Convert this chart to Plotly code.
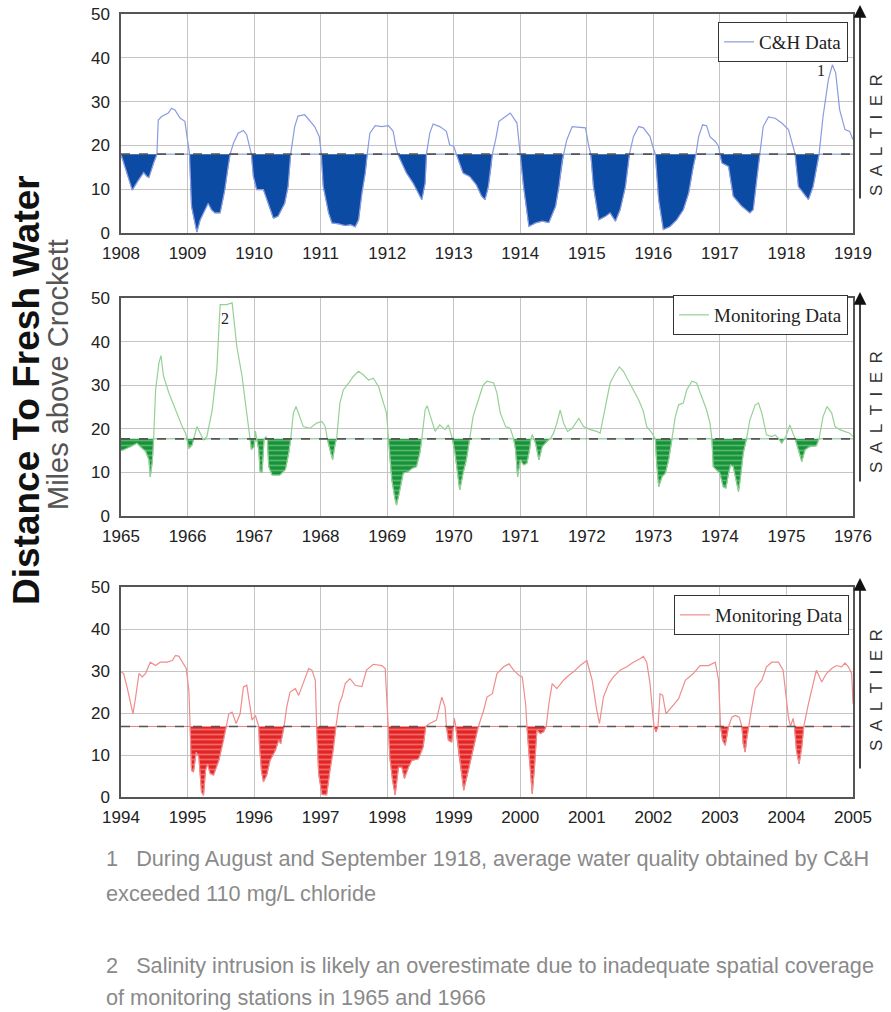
import numpy as np
import plotly.graph_objects as go

W, H = 891, 1012

# ---------------- data ----------------
ch_years = [1908.00, 1908.08, 1908.17, 1908.25, 1908.34, 1908.39, 1908.42, 1908.49, 1908.54, 1908.56,
            1908.61, 1908.71, 1908.76, 1908.81, 1908.89, 1908.96, 1909.01, 1909.03, 1909.06, 1909.14,
            1909.19, 1909.24, 1909.31, 1909.36, 1909.41, 1909.49, 1909.56, 1909.61, 1909.64, 1909.69,
            1909.76, 1909.84, 1909.89, 1909.93, 1909.96, 1909.99, 1910.04, 1910.14, 1910.21, 1910.29,
            1910.36, 1910.46, 1910.51, 1910.55, 1910.61, 1910.66, 1910.76, 1910.84, 1910.91, 1910.98,
            1911.01, 1911.04, 1911.12, 1911.17, 1911.27, 1911.37, 1911.45, 1911.52, 1911.57, 1911.62,
            1911.67, 1911.70, 1911.74, 1911.82, 1911.92, 1912.02, 1912.09, 1912.13, 1912.16, 1912.22,
            1912.29, 1912.39, 1912.47, 1912.52, 1912.57, 1912.59, 1912.64, 1912.69, 1912.79, 1912.89,
            1912.94, 1913.00, 1913.04, 1913.14, 1913.24, 1913.34, 1913.42, 1913.47, 1913.52, 1913.56,
            1913.58, 1913.63, 1913.68, 1913.78, 1913.85, 1913.95, 1914.00, 1914.05, 1914.13, 1914.23,
            1914.33, 1914.43, 1914.53, 1914.58, 1914.63, 1914.65, 1914.70, 1914.78, 1914.88, 1914.98,
            1915.03, 1915.06, 1915.10, 1915.18, 1915.28, 1915.35, 1915.43, 1915.50, 1915.58, 1915.64,
            1915.70, 1915.78, 1915.85, 1915.95, 1915.99, 1916.03, 1916.08, 1916.15, 1916.25, 1916.35,
            1916.45, 1916.53, 1916.60, 1916.64, 1916.68, 1916.74, 1916.80, 1916.85, 1916.93, 1916.98,
            1917.00, 1917.03, 1917.13, 1917.20, 1917.33, 1917.45, 1917.50, 1917.55, 1917.60, 1917.65,
            1917.73, 1917.83, 1917.93, 1918.03, 1918.10, 1918.13, 1918.18, 1918.25, 1918.33, 1918.40,
            1918.45, 1918.49, 1918.55, 1918.63, 1918.69, 1918.74, 1918.80, 1918.88, 1918.95, 1919.00]
ch_miles = [18.0, 14.0, 9.8, 11.8, 13.8, 12.9, 12.7, 16.0, 18.0, 25.8,
            26.6, 27.4, 28.5, 28.1, 26.2, 25.5, 19.8, 18.0, 6.1, 0.2,
            3.0, 4.6, 6.8, 5.3, 4.6, 4.6, 9.9, 15.2, 18.0, 20.5,
            22.8, 23.4, 22.4, 19.8, 18.0, 12.9, 9.9, 9.9, 6.8, 3.4,
            3.8, 6.8, 10.6, 18.0, 24.3, 26.7, 27.0, 25.5, 24.3, 22.0,
            18.0, 10.6, 4.6, 2.3, 2.1, 1.7, 1.9, 1.4, 3.0, 9.1,
            13.7, 18.0, 22.8, 24.5, 24.3, 24.5, 23.2, 19.8, 18.0, 16.0,
            13.7, 11.4, 9.1, 7.6, 11.4, 18.0, 22.8, 24.9, 24.3, 23.2,
            20.1, 19.8, 18.0, 13.7, 12.9, 11.0, 8.4, 7.6, 10.6, 15.0,
            18.0, 21.3, 25.5, 26.6, 27.4, 25.1, 18.0, 10.6, 1.5, 2.3,
            2.7, 2.4, 6.1, 10.6, 16.6, 18.0, 21.3, 24.3, 24.2, 24.0,
            19.8, 18.0, 10.6, 3.0, 3.8, 4.6, 2.7, 5.3, 10.6, 18.0,
            22.0, 24.3, 24.0, 22.0, 19.8, 18.0, 7.6, 0.8, 1.5, 3.0,
            5.3, 9.1, 15.2, 18.0, 22.0, 24.7, 24.5, 22.0, 20.9, 19.8,
            18.0, 16.0, 15.2, 8.4, 6.1, 4.6, 5.3, 12.2, 18.0, 24.3,
            26.5, 26.2, 25.1, 23.6, 19.8, 18.0, 10.6, 9.1, 7.6, 10.6,
            14.4, 18.0, 26.6, 35.0, 38.4, 36.5, 28.1, 23.6, 23.2, 21.3]

mon1_years = [1965.00, 1965.04, 1965.14, 1965.24, 1965.29, 1965.37, 1965.42, 1965.44, 1965.47, 1965.49,
              1965.52, 1965.57, 1965.60, 1965.64, 1965.72, 1965.82, 1965.85, 1965.92, 1965.97, 1965.99,
              1966.02, 1966.07, 1966.09, 1966.14, 1966.19, 1966.24, 1966.29, 1966.37, 1966.44, 1966.49,
              1966.59, 1966.67, 1966.74, 1966.82, 1966.87, 1966.92, 1966.94, 1966.96, 1967.00, 1967.02,
              1967.04, 1967.07, 1967.09, 1967.12, 1967.15, 1967.18, 1967.20, 1967.22, 1967.27, 1967.39,
              1967.47, 1967.52, 1967.55, 1967.59, 1967.63, 1967.68, 1967.74, 1967.84, 1967.94, 1968.02,
              1968.07, 1968.10, 1968.14, 1968.18, 1968.22, 1968.24, 1968.29, 1968.34, 1968.42, 1968.49,
              1968.57, 1968.64, 1968.72, 1968.79, 1968.87, 1968.94, 1968.99, 1969.02, 1969.04, 1969.07,
              1969.12, 1969.14, 1969.18, 1969.24, 1969.32, 1969.37, 1969.44, 1969.49, 1969.52, 1969.57,
              1969.60, 1969.67, 1969.72, 1969.79, 1969.87, 1969.92, 1969.94, 1969.98, 1970.02, 1970.07,
              1970.09, 1970.14, 1970.19, 1970.24, 1970.29, 1970.37, 1970.44, 1970.50, 1970.60, 1970.65,
              1970.70, 1970.78, 1970.85, 1970.90, 1970.93, 1970.96, 1971.00, 1971.05, 1971.10, 1971.14,
              1971.16, 1971.18, 1971.20, 1971.23, 1971.28, 1971.33, 1971.40, 1971.45, 1971.50, 1971.55,
              1971.60, 1971.65, 1971.71, 1971.78, 1971.88, 1971.95, 1972.05, 1972.15, 1972.20, 1972.28,
              1972.35, 1972.43, 1972.49, 1972.55, 1972.63, 1972.70, 1972.78, 1972.85, 1972.90, 1972.98,
              1973.03, 1973.05, 1973.08, 1973.13, 1973.18, 1973.23, 1973.28, 1973.33, 1973.38, 1973.45,
              1973.50, 1973.58, 1973.65, 1973.73, 1973.80, 1973.85, 1973.88, 1973.90, 1973.95, 1974.00,
              1974.05, 1974.09, 1974.13, 1974.16, 1974.20, 1974.24, 1974.28, 1974.31, 1974.35, 1974.40,
              1974.45, 1974.53, 1974.58, 1974.63, 1974.70, 1974.78, 1974.83, 1974.88, 1974.93, 1974.97,
              1975.00, 1975.05, 1975.10, 1975.13, 1975.18, 1975.23, 1975.28, 1975.35, 1975.45, 1975.49,
              1975.55, 1975.61, 1975.68, 1975.73, 1975.80, 1975.88, 1975.95, 1976.00]
mon1_miles = [15.0, 15.2, 15.9, 16.7, 15.9, 14.8, 12.9, 9.0, 12.5, 17.7,
              28.9, 35.1, 36.8, 32.0, 28.2, 24.3, 23.2, 20.5, 19.0, 17.7,
              15.5, 16.3, 17.7, 20.5, 19.0, 17.5, 18.2, 24.3, 33.5, 48.5,
              48.5, 48.9, 38.9, 32.0, 25.9, 20.5, 17.7, 15.2, 15.9, 19.5,
              17.7, 15.2, 10.2, 10.0, 17.7, 18.2, 17.7, 11.3, 9.4, 9.4,
              10.6, 14.4, 17.7, 23.6, 25.1, 22.8, 20.5, 20.1, 21.3, 21.7,
              20.5, 17.7, 15.2, 12.9, 16.7, 17.7, 25.9, 28.9, 30.5, 32.0,
              33.2, 32.4, 31.2, 31.6, 29.7, 25.9, 23.6, 17.7, 13.6, 8.3,
              3.7, 2.5, 5.2, 9.8, 10.2, 10.9, 11.3, 14.4, 17.7, 24.3,
              25.3, 22.0, 19.4, 20.9, 19.8, 20.9, 19.8, 17.7, 14.4, 8.3,
              6.0, 9.8, 12.9, 17.7, 22.8, 26.6, 30.0, 30.9, 30.5, 28.2,
              23.6, 20.5, 20.1, 17.7, 15.2, 9.0, 12.9, 11.7, 12.1, 15.2,
              17.7, 18.7, 17.7, 16.7, 12.9, 15.9, 17.1, 17.7, 19.0, 21.3,
              24.3, 21.3, 19.4, 20.1, 22.4, 20.5, 19.8, 19.4, 19.0, 25.1,
              30.5, 32.8, 34.2, 33.2, 30.9, 28.9, 26.6, 24.0, 20.5, 19.0,
              17.7, 12.1, 6.7, 9.0, 9.8, 12.9, 17.7, 22.8, 25.5, 25.9,
              28.9, 30.9, 30.5, 27.4, 24.3, 21.3, 17.7, 11.3, 10.6, 9.8,
              6.7, 6.4, 9.8, 11.7, 11.3, 8.3, 5.6, 9.0, 14.4, 17.7,
              22.0, 25.5, 25.9, 23.6, 18.6, 18.2, 18.6, 17.8, 16.7, 17.7,
              18.6, 20.9, 19.0, 17.7, 15.2, 12.5, 15.2, 15.9, 16.1, 17.7,
              22.8, 25.1, 23.6, 20.5, 19.8, 19.4, 19.0, 18.2]

mon2_years = [1994.00, 1994.04, 1994.09, 1994.14, 1994.18, 1994.22, 1994.27, 1994.32, 1994.37, 1994.44,
              1994.52, 1994.59, 1994.69, 1994.77, 1994.82, 1994.87, 1994.92, 1994.98, 1995.02, 1995.04,
              1995.06, 1995.09, 1995.13, 1995.17, 1995.21, 1995.24, 1995.27, 1995.30, 1995.34, 1995.39,
              1995.47, 1995.54, 1995.58, 1995.62, 1995.67, 1995.73, 1995.79, 1995.84, 1995.89, 1995.93,
              1995.97, 1996.02, 1996.07, 1996.08, 1996.11, 1996.14, 1996.19, 1996.24, 1996.32, 1996.37,
              1996.40, 1996.45, 1996.49, 1996.54, 1996.62, 1996.67, 1996.74, 1996.82, 1996.87, 1996.92,
              1996.94, 1996.97, 1997.02, 1997.09, 1997.14, 1997.19, 1997.23, 1997.28, 1997.32, 1997.37,
              1997.44, 1997.52, 1997.62, 1997.69, 1997.79, 1997.92, 1997.97, 1998.02, 1998.04, 1998.08,
              1998.12, 1998.17, 1998.22, 1998.26, 1998.32, 1998.37, 1998.47, 1998.54, 1998.58, 1998.64,
              1998.74, 1998.82, 1998.87, 1998.89, 1998.92, 1998.97, 1998.99, 1999.01, 1999.03, 1999.07,
              1999.12, 1999.15, 1999.22, 1999.29, 1999.37, 1999.45, 1999.50, 1999.58, 1999.65, 1999.75,
              1999.83, 1999.90, 1999.98, 2000.03, 2000.08, 2000.10, 2000.13, 2000.15, 2000.18, 2000.21,
              2000.25, 2000.30, 2000.35, 2000.39, 2000.43, 2000.48, 2000.55, 2000.65, 2000.73, 2000.80,
              2000.90, 2001.00, 2001.08, 2001.15, 2001.19, 2001.25, 2001.33, 2001.40, 2001.50, 2001.60,
              2001.70, 2001.80, 2001.85, 2001.90, 2001.95, 2001.99, 2002.01, 2002.04, 2002.07, 2002.10,
              2002.14, 2002.19, 2002.28, 2002.38, 2002.48, 2002.60, 2002.70, 2002.83, 2002.93, 2002.98,
              2003.01, 2003.04, 2003.08, 2003.13, 2003.18, 2003.23, 2003.29, 2003.33, 2003.35, 2003.38,
              2003.40, 2003.43, 2003.48, 2003.53, 2003.63, 2003.70, 2003.78, 2003.88, 2003.95, 2004.03,
              2004.06, 2004.10, 2004.12, 2004.15, 2004.19, 2004.23, 2004.26, 2004.33, 2004.40, 2004.45,
              2004.53, 2004.60, 2004.68, 2004.75, 2004.83, 2004.88, 2004.93, 2004.98, 2005.00]
mon2_miles = [29.8, 29.4, 26.2, 22.2, 19.8, 23.8, 29.4, 28.6, 29.4, 32.1,
              31.3, 32.1, 32.1, 32.5, 33.7, 33.5, 32.1, 30.6, 25.4, 16.8,
              6.3, 6.0, 10.7, 9.5, 1.2, 0.4, 6.3, 7.9, 5.6, 5.2,
              8.7, 13.5, 16.8, 19.8, 20.2, 17.5, 19.8, 26.2, 26.6, 22.2,
              18.3, 19.4, 16.8, 12.7, 6.3, 3.6, 5.2, 8.7, 11.1, 13.5,
              12.7, 16.8, 21.4, 25.0, 25.8, 24.2, 27.0, 30.6, 30.2, 27.8,
              16.8, 5.6, 0.6, 0.5, 6.3, 11.1, 16.8, 22.2, 23.8, 27.0,
              28.2, 26.6, 26.3, 30.2, 31.6, 31.3, 30.6, 16.8, 9.5, 4.0,
              0.5, 7.1, 7.1, 4.4, 7.1, 8.7, 9.1, 11.9, 16.8, 17.5,
              18.3, 23.8, 21.4, 16.8, 13.5, 13.1, 16.8, 18.7, 16.8, 11.1,
              5.6, 1.6, 6.3, 11.1, 16.8, 20.6, 23.8, 24.6, 29.4, 31.0,
              31.7, 30.2, 29.0, 28.6, 22.2, 16.8, 10.3, 6.3, 0.8, 6.3,
              15.9, 15.1, 15.5, 16.8, 22.2, 27.0, 25.8, 27.8, 29.0, 29.8,
              31.3, 32.5, 27.8, 20.6, 17.5, 23.8, 27.0, 28.6, 30.2, 31.0,
              32.1, 32.9, 33.5, 32.1, 27.0, 19.8, 16.8, 15.5, 16.8, 24.6,
              24.2, 19.8, 21.4, 23.4, 27.8, 29.4, 31.3, 31.3, 32.1, 27.8,
              16.8, 13.5, 12.3, 16.8, 19.0, 19.4, 19.0, 16.8, 12.7, 10.7,
              13.5, 16.8, 21.4, 25.8, 27.8, 31.0, 32.1, 32.1, 30.2, 19.0,
              16.8, 18.7, 16.8, 11.1, 7.9, 11.9, 16.8, 22.2, 27.0, 30.2,
              27.4, 29.4, 30.6, 31.3, 31.0, 31.9, 31.0, 29.4, 22.2]

thresholds = [18.0, 17.7, 16.8]
series_names = ["C&H Data", "Monitoring Data", "Monitoring Data"]
year_ranges = [(1908, 1919), (1965, 1976), (1994, 2005)]
y_ticks = [0, 10, 20, 30, 40, 50]

footnote_1 = ["1   During August and September 1918, average water quality obtained by C&H",
              "exceeded 110 mg/L chloride"]
footnote_2 = ["2   Salinity intrusion is likely an overestimate due to inadequate spatial coverage",
              "of monitoring stations in 1965 and 1966"]
side_label = "SALTIER"

# ---------------- styling ----------------
line_colors = ["#8a9be0", "#95d195", "#f08c8c"]
fill_colors = ["#0b4ba3", "#17913a", "#e42424"]
stripe_colors = [None, "#55b86b", "#f06a6a"]
panel_px = [(14, 233), (298, 516), (587, 797)]   # top/bottom pixel of each plot area
x_px = (121, 853)
legend_px = [(848, 22), (848, 295), (849, 595)]
arrow_px = [(5, 200, 135), (292, 483, 412), (578, 770, 690)]

def px_x(p):
    return p / W

def px_y(p):
    return 1 - p / H

fig = go.Figure()
datasets = [(ch_years, ch_miles), (mon1_years, mon1_miles), (mon2_years, mon2_miles)]

for i, (xs, ys) in enumerate(datasets):
    n = i + 1
    xa = "x" if n == 1 else f"x{n}"
    ya = "y" if n == 1 else f"y{n}"
    leg = "legend" if n == 1 else f"legend{n}"
    thr = thresholds[i]
    xs = np.array(xs)
    ys = np.array(ys)
    thr_arr = np.full_like(ys, thr)
    fig.add_trace(go.Scatter(x=xs, y=thr_arr, mode="lines", line=dict(width=0),
                             hoverinfo="skip", showlegend=False, xaxis=xa, yaxis=ya))
    fill_kw = dict(fill="tonexty", fillcolor=fill_colors[i])
    if stripe_colors[i]:
        fill_kw["fillpattern"] = dict(shape="-", fgcolor=stripe_colors[i], bgcolor=fill_colors[i],
                                      size=5, solidity=0.35, fillmode="replace")
    fig.add_trace(go.Scatter(x=xs, y=np.minimum(ys, thr), mode="lines",
                             line=dict(width=0.6, color=fill_colors[i]),
                             hoverinfo="skip", showlegend=False, xaxis=xa, yaxis=ya, **fill_kw))
    fig.add_trace(go.Scatter(x=xs, y=ys, mode="lines", name=series_names[i],
                             line=dict(width=1.2, color=line_colors[i]),
                             showlegend=True, legend=leg, xaxis=xa, yaxis=ya))
    fig.add_trace(go.Scatter(x=[year_ranges[i][0], year_ranges[i][1]], y=[thr, thr], mode="lines",
                             line=dict(width=1.6, color="#555555", dash="dash"),
                             hoverinfo="skip", showlegend=False, xaxis=xa, yaxis=ya))

axis_font = dict(family="Liberation Sans, Arial, sans-serif", size=17, color="#222222")
layout = dict(
    width=W, height=H, autosize=False,
    margin=dict(l=0, r=0, t=0, b=0, pad=0),
    paper_bgcolor="white", plot_bgcolor="white",
)
for i in range(3):
    n = i + 1
    xk = "xaxis" if n == 1 else f"xaxis{n}"
    yk = "yaxis" if n == 1 else f"yaxis{n}"
    xa = "x" if n == 1 else f"x{n}"
    ya = "y" if n == 1 else f"y{n}"
    top, bot = panel_px[i]
    layout[xk] = dict(domain=[px_x(x_px[0]), px_x(x_px[1])], anchor=ya, automargin=False,
                      range=list(year_ranges[i]), tickmode="linear", dtick=1, tick0=year_ranges[i][0],
                      tickformat="d", showgrid=True, gridcolor="#c4c4c4", gridwidth=1,
                      showline=True, linecolor="#555555", linewidth=1.5, mirror=True,
                      ticks="", ticklabelstandoff=4, tickfont=axis_font, zeroline=False, fixedrange=True)
    layout[yk] = dict(domain=[px_y(bot), px_y(top)], anchor=xa, automargin=False,
                      range=[0, 50], tickvals=y_ticks, showgrid=True, gridcolor="#c4c4c4", gridwidth=1,
                      showline=True, linecolor="#555555", linewidth=1.5, mirror=True,
                      ticks="", ticklabelstandoff=6, tickfont=axis_font, zeroline=False, fixedrange=True)
    lk = "legend" if n == 1 else f"legend{n}"
    lx, ly = legend_px[i]
    layout[lk] = dict(x=px_x(lx), y=px_y(ly), xanchor="right", yanchor="top",
                      bgcolor="white", bordercolor="#333333", borderwidth=1,
                      font=dict(family="Liberation Serif, Times New Roman, serif", size=19, color="#222222"),
                      itemwidth=30)
fig.update_layout(**layout)

annotations = []
annotations.append(dict(x=1918.52, y=37.0, xref="x", yref="y", text="1", showarrow=False,
                        font=dict(family="Liberation Serif, serif", size=16, color="#222222")))
annotations.append(dict(x=1966.57, y=45.4, xref="x2", yref="y2", text="2", showarrow=False,
                        font=dict(family="Liberation Serif, serif", size=16, color="#222222")))
spaced = "\u2002".join(side_label)
for (ytip, ytail, ytext) in arrow_px:
    annotations.append(dict(x=px_x(860), y=px_y(ytip), xref="paper", yref="paper", text="",
                            showarrow=True, ax=0, ay=ytail - ytip, axref="pixel", ayref="pixel",
                            arrowhead=2, arrowsize=1.6, arrowwidth=1.6, arrowcolor="#111111"))
    annotations.append(dict(x=px_x(876), y=px_y(ytext), xref="paper", yref="paper",
                            xanchor="center", yanchor="middle",
                            text=spaced, textangle=-90, showarrow=False,
                            font=dict(family="Liberation Sans, Arial, sans-serif", size=17, color="#333333")))
annotations.append(dict(x=px_x(26), y=px_y(390), xref="paper", yref="paper",
                        xanchor="center", yanchor="middle",
                        text="<b>Distance To Fresh Water</b>", textangle=-90, showarrow=False,
                        font=dict(family="Liberation Sans, Arial, sans-serif", size=37, color="#111111")))
annotations.append(dict(x=px_x(58), y=px_y(375), xref="paper", yref="paper",
                        xanchor="center", yanchor="middle",
                        text="Miles above Crockett", textangle=-90, showarrow=False,
                        font=dict(family="Liberation Sans, Arial, sans-serif", size=29, color="#555555")))
foot_font = dict(family="Liberation Sans, Arial, sans-serif", size=21.7, color="#8a8a8a")
for j, (line, ypx) in enumerate(zip(footnote_1 + footnote_2, [858, 893, 965, 997])):
    annotations.append(dict(x=px_x(104), y=px_y(ypx), xref="paper", yref="paper", text=line,
                            xanchor="left", yanchor="middle", showarrow=False, font=foot_font))
fig.update_layout(annotations=annotations)

fig.write_html("out.html")
